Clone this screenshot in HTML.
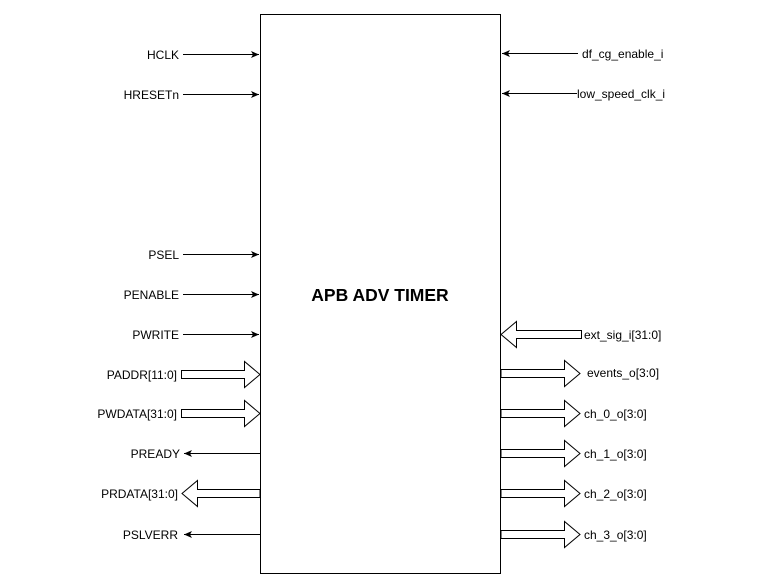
<!DOCTYPE html>
<html><head><meta charset="utf-8"><style>
html,body{margin:0;padding:0;background:#fff;}
svg{display:block;}
text{font-family:"Liberation Sans",Arial,sans-serif;font-size:12px;fill:#000;}
</style></head><body>
<svg width="761" height="588" viewBox="0 0 761 588" xmlns="http://www.w3.org/2000/svg">
<defs>
<marker id="a" markerWidth="9" markerHeight="9" refX="8" refY="4.5" orient="auto" markerUnits="userSpaceOnUse">
<path d="M0,1 L8,4.5 L0,8 L2,4.5 Z" fill="#000"/>
</marker>
</defs>
<rect x="260.5" y="14.5" width="240" height="559" fill="#fff" stroke="#000" stroke-width="1"/>
<text x="380" y="301" text-anchor="middle" style="font-size:17.5px;font-weight:bold">APB ADV TIMER</text>

<g stroke="#000" stroke-width="1" fill="none">
<line x1="183" y1="54.5" x2="259" y2="54.5" marker-end="url(#a)"/>
<line x1="183" y1="94.5" x2="259" y2="94.5" marker-end="url(#a)"/>
<line x1="183" y1="254.5" x2="259" y2="254.5" marker-end="url(#a)"/>
<line x1="183" y1="294.5" x2="259" y2="294.5" marker-end="url(#a)"/>
<line x1="183" y1="334.5" x2="259" y2="334.5" marker-end="url(#a)"/>
<line x1="260" y1="453.5" x2="184" y2="453.5" marker-end="url(#a)"/>
<line x1="260" y1="534.5" x2="184" y2="534.5" marker-end="url(#a)"/>
<line x1="578" y1="53.5" x2="502" y2="53.5" marker-end="url(#a)"/>
<line x1="577" y1="93.5" x2="502" y2="93.5" marker-end="url(#a)"/>
</g>

<g stroke="#000" stroke-width="1" fill="#fff">
<path d="M181.5,370.5 H244.5 V361.5 L260,374.5 L244.5,387.5 V378.5 H181.5 Z"/>
<path d="M181.5,409.5 H244.5 V400.5 L260,413.5 L244.5,426.5 V417.5 H181.5 Z"/>
<path d="M260,489.5 H197.5 V480.5 L182,493.5 L197.5,506.5 V497.5 H260 Z"/>
<path d="M581.5,330.5 H516.5 V321.5 L501,334.5 L516.5,347.5 V338.5 H581.5 Z"/>
<path d="M501,369.5 H564.5 V360.5 L580,373.5 L564.5,386.5 V377.5 H501 Z"/>
<path d="M501,409.5 H564.5 V400.5 L580,413.5 L564.5,426.5 V417.5 H501 Z"/>
<path d="M501,449.5 H564.5 V440.5 L580,453.5 L564.5,466.5 V457.5 H501 Z"/>
<path d="M501,489.5 H564.5 V480.5 L580,493.5 L564.5,506.5 V497.5 H501 Z"/>
<path d="M501,530.5 H564.5 V521.5 L580,534.5 L564.5,547.5 V538.5 H501 Z"/>
</g>

<g text-anchor="end">
<text x="179" y="59">HCLK</text>
<text x="179" y="99">HRESETn</text>
<text x="179" y="259">PSEL</text>
<text x="179" y="299">PENABLE</text>
<text x="179" y="339">PWRITE</text>
<text x="177" y="379">PADDR[11:0]</text>
<text x="177" y="418">PWDATA[31:0]</text>
<text x="180" y="458">PREADY</text>
<text x="178" y="498">PRDATA[31:0]</text>
<text x="178" y="539">PSLVERR</text>
</g>
<g>
<text x="582" y="58">df_cg_enable_i</text>
<text x="577" y="98">low_speed_clk_i</text>
<text x="584" y="339">ext_sig_i[31:0]</text>
<text x="587" y="377">events_o[3:0]</text>
<text x="584" y="418">ch_0_o[3:0]</text>
<text x="584" y="458">ch_1_o[3:0]</text>
<text x="584" y="498">ch_2_o[3:0]</text>
<text x="584" y="539">ch_3_o[3:0]</text>
</g>
</svg>
</body></html>
